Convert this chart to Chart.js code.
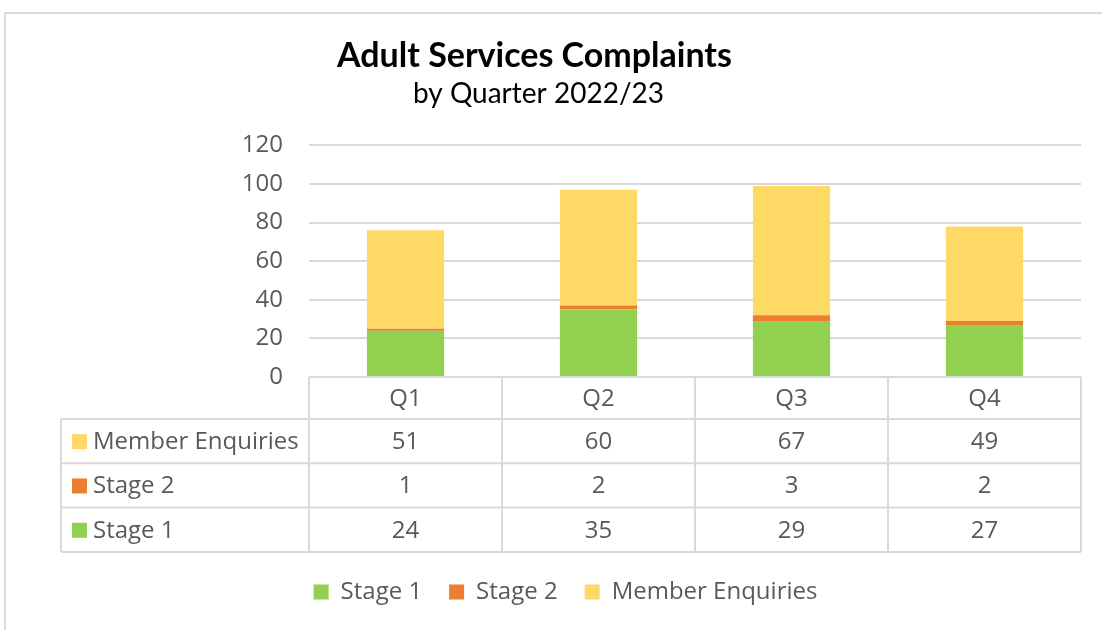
<!DOCTYPE html>
<html>
<head>
<meta charset="utf-8">
<script src="https://cdn.jsdelivr.net/npm/chart.js@4.4.0/dist/chart.umd.min.js"></script>
<style>
  html, body { margin: 0; padding: 0; background: #ffffff; }
  #wrap { width: 1102px; height: 630px; position: relative; }
</style>
</head>
<body>
<div id="wrap"><canvas id="c" width="1102" height="630"></canvas></div>
<script>
const titleText = "Adult Services Complaints";
const subtitleText = "by Quarter 2022/23";
const categories = ["Q1", "Q2", "Q3", "Q4"];
const stage1 = [24, 35, 29, 27];
const stage2 = [1, 2, 3, 2];
const memberEnquiries = [51, 60, 67, 49];
const seriesNames = ["Stage 1", "Stage 2", "Member Enquiries"];
const seriesColors = ["#92d050", "#ed7d31", "#ffd966"];
const yTicks = [0, 20, 40, 60, 80, 100, 120];

const FONT = "'Open Sans'";
const TFONT = "Lato";
const TEXT = "#595959";
const LINE = "#d9d9d9";

const tablePlugin = {
  id: "dataTable",
  afterLayout(chart) {
    // fine-tune horizontal centring of title, subtitle and legend
    chart.boxes.forEach(b => {
      let dx = 0;
      if (b === chart.legend) dx = 25;
      else if (b.options && b.options.text === titleText) dx = -6;
      else if (b.options && b.options.text === subtitleText) dx = -2;
      if (dx) { b.left += dx; b.right += dx; }
    });
  },
  beforeDraw(chart) {
    const ctx = chart.ctx;
    ctx.save();
    ctx.strokeStyle = LINE;
    ctx.lineWidth = 2;
    ctx.strokeRect(5, 13, 1300, 1000);
    ctx.restore();
  },
  afterDraw(chart) {
    const ctx = chart.ctx;
    const x = chart.scales.x;
    const area = chart.chartArea;
    const catW = (area.right - area.left) / categories.length;
    const top = area.bottom;
    const headerH = 42;
    const rowH = 44.3;
    const leftX = 61;
    const rows = [2, 1, 0]; // dataset indices in table order
    const bottom = top + headerH + rowH * rows.length;
    ctx.save();
    ctx.strokeStyle = LINE;
    ctx.lineWidth = 2;
    ctx.beginPath();
    ctx.moveTo(area.left, top); ctx.lineTo(area.right, top);
    for (let r = 0; r <= rows.length; r++) {
      const y = top + headerH + rowH * r;
      ctx.moveTo(leftX, y); ctx.lineTo(area.right, y);
    }
    ctx.moveTo(leftX, top + headerH); ctx.lineTo(leftX, bottom);
    for (let i = 0; i <= categories.length; i++) {
      const cx = i < categories.length ? x.getPixelForValue(i) - catW / 2 : x.getPixelForValue(i - 1) + catW / 2;
      ctx.moveTo(cx, top); ctx.lineTo(cx, bottom);
    }
    ctx.stroke();

    ctx.fillStyle = TEXT;
    ctx.font = "24px " + FONT;
    ctx.textAlign = "center";
    ctx.textBaseline = "middle";
    categories.forEach((c, i) => {
      ctx.fillText(c, x.getPixelForValue(i), top + headerH / 2 + 1);
    });
    rows.forEach((di, r) => {
      const yMid = top + headerH + rowH * r + rowH / 2 + 1;
      const ds = chart.data.datasets[di];
      ctx.fillStyle = ds.backgroundColor;
      ctx.fillRect(leftX + 11, yMid - 8, 15, 15);
      ctx.fillStyle = TEXT;
      ctx.textAlign = "left";
      ctx.fillText(ds.label, leftX + 32, yMid);
      ctx.textAlign = "center";
      ds.data.forEach((v, i) => {
        ctx.fillText(String(v), x.getPixelForValue(i), yMid);
      });
    });
    ctx.restore();
  }
};

new Chart(document.getElementById("c"), {
  type: "bar",
  data: {
    labels: categories,
    datasets: [
      { label: seriesNames[0], data: stage1, backgroundColor: seriesColors[0] },
      { label: seriesNames[1], data: stage2, backgroundColor: seriesColors[1] },
      { label: seriesNames[2], data: memberEnquiries, backgroundColor: seriesColors[2] }
    ]
  },
  options: {
    responsive: false,
    animation: false,
    devicePixelRatio: 1,
    datasets: { bar: { categoryPercentage: 1.0, barPercentage: 0.4 } },
    layout: { padding: { left: 0, right: 21, top: 0, bottom: 16 } },
    scales: {
      x: {
        stacked: true,
        grid: { display: false },
        border: { display: false },
        ticks: { display: false },
        afterFit(scale) { scale.height = 176; }
      },
      y: {
        stacked: true,
        min: 0, max: 120,
        afterBuildTicks(scale) { scale.ticks = yTicks.map(v => ({ value: v })); },
        grid: { color: LINE, lineWidth: 2, drawTicks: false },
        border: { display: false },
        ticks: { color: TEXT, font: { family: FONT, size: 24 }, padding: 26 },
        afterFit(scale) { scale.width = 309; }
      }
    },
    plugins: {
      title: {
        display: true, text: titleText, color: "#000000",
        font: { family: TFONT, size: 34, weight: "bold" },
        padding: { top: 36, bottom: 0 }
      },
      subtitle: {
        display: true, text: subtitleText, color: "#000000",
        font: { family: TFONT, size: 28 },
        padding: { top: 0, bottom: 35 }
      },
      legend: {
        position: "bottom",
        labels: { color: TEXT, font: { family: FONT, size: 24 }, boxWidth: 15, boxHeight: 15, padding: 27, useBorderRadius: false }
      },
      tooltip: { enabled: false }
    }
  },
  plugins: [tablePlugin]
});
</script>
</body>
</html>
